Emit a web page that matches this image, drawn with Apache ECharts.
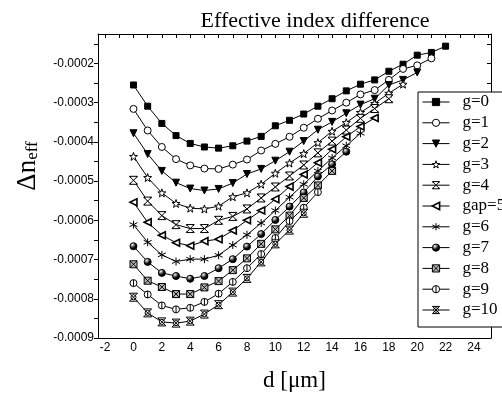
<!DOCTYPE html>
<html>
<head>
<meta charset="utf-8">
<script src="https://cdn.jsdelivr.net/npm/echarts@6/dist/echarts.min.js"></script>
<style>html,body{margin:0;padding:0;background:#fff;}#c{width:502px;height:400px;}</style>
</head>
<body>
<div id="c"></div>
<script>
var seriesNames = ['g=0','g=1','g=2','g=3','g=4','gap=5','g=6','g=7','g=8','g=9','g=10'];
var dValues = [0,1,2,3,4,5,6,7,8,9,10,11,12,13,14,15,16,17,18,19,20,21,22];
var xTickLabels = [-2,0,2,4,6,8,10,12,14,16,18,20,22,24];
var yTickLabels = [-0.0009,-0.0008,-0.0007,-0.0006,-0.0005,-0.0004,-0.0003,-0.0002];

var g0 = [-0.000255,-0.000309,-0.000353,-0.000384,-0.000404,-0.000413,-0.000416,-0.00041,-0.000398,-0.000386,-0.000359,-0.000345,-0.000329,-0.000309,-0.00029,-0.00027,-0.000253,-0.000242,-0.00022,-0.000202,-0.000179,-0.000172,-0.000156];
var g1 = [-0.000316,-0.000371,-0.000413,-0.000444,-0.00046,-0.000468,-0.000469,-0.000458,-0.000445,-0.000422,-0.000405,-0.000387,-0.000364,-0.000341,-0.00032,-0.0003,-0.000279,-0.000268,-0.000242,-0.000214,-0.000205,-0.000187];
var g2 = [-0.000378,-0.000431,-0.000474,-0.000504,-0.000519,-0.000524,-0.00052,-0.000505,-0.000482,-0.000469,-0.000448,-0.000425,-0.000398,-0.000369,-0.000349,-0.000327,-0.000305,-0.00029,-0.000255,-0.000242,-0.000223];
var g3 = [-0.000437,-0.000491,-0.00053,-0.000557,-0.000569,-0.000571,-0.000564,-0.00054,-0.00053,-0.000508,-0.00048,-0.000454,-0.00043,-0.000402,-0.000373,-0.000351,-0.000325,-0.000302,-0.000276,-0.000253];
var g4 = [-0.000498,-0.000551,-0.000588,-0.000611,-0.000621,-0.000621,-0.0006,-0.00059,-0.000571,-0.000543,-0.000515,-0.000487,-0.000459,-0.000428,-0.000398,-0.00037,-0.00034,-0.000315,-0.00029];
var g5 = [-0.000554,-0.000605,-0.000638,-0.000657,-0.000665,-0.000653,-0.000648,-0.000626,-0.0006,-0.000575,-0.000546,-0.000514,-0.000483,-0.000453,-0.000419,-0.000387,-0.000361,-0.000339];
var g6 = [-0.000611,-0.000656,-0.000688,-0.000705,-0.000699,-0.000699,-0.000689,-0.000663,-0.000637,-0.000607,-0.000575,-0.000541,-0.000508,-0.000474,-0.000441,-0.00041,-0.000378];
var g7 = [-0.000666,-0.000706,-0.000734,-0.000742,-0.000749,-0.000742,-0.000722,-0.000699,-0.000667,-0.000635,-0.000599,-0.000565,-0.000529,-0.000488,-0.000457,-0.000425];
var g8 = [-0.000712,-0.000754,-0.00077,-0.000788,-0.000788,-0.000771,-0.000755,-0.000727,-0.000697,-0.00066,-0.000623,-0.000588,-0.000543,-0.000511,-0.000474];
var g9 = [-0.00076,-0.000789,-0.000817,-0.000827,-0.000823,-0.000808,-0.000787,-0.000757,-0.000722,-0.000686,-0.000645,-0.000602,-0.000568,-0.000528];
var g10 = [-0.000796,-0.000836,-0.000859,-0.000862,-0.000857,-0.000839,-0.000815,-0.000783,-0.000748,-0.000706,-0.00066,-0.000625,-0.000582];
var allValues = [g0,g1,g2,g3,g4,g5,g6,g7,g8,g9,g10];

var STAR = 'path://M50 0 L61.76 33.82 L97.55 34.55 L69.02 56.18 L79.39 90.45 L50 70 L20.61 90.45 L30.98 56.18 L2.45 34.55 L38.24 33.82 Z';
var HOUR = 'path://M0 0 L100 0 L0 100 L100 100 Z M10 0 L10 18 M90 0 L90 18 M10 100 L10 82 M90 100 L90 82';
var AST = 'path://M50 0 L50 100 M7 25 L93 75 M93 25 L7 75';
var BOXX = 'path://M0 0 L100 0 L100 100 L0 100 Z M0 0 L100 100 M100 0 L0 100';
var CIRCBAR = 'path://M50 0 A50 50 0 1 1 50 100 A50 50 0 1 1 50 0 Z M50 0 L50 100';
var CIRCX = 'path://M0 0 L100 0 L0 100 L100 100 Z M50 18 A32 32 0 1 1 50 82 A32 32 0 1 1 50 18 Z';

var sphere = {type:'radial',x:0.35,y:0.3,r:0.75,colorStops:[{offset:0,color:'#fff'},{offset:0.35,color:'#666'},{offset:0.6,color:'#000'},{offset:1,color:'#000'}]};
var styles = [
  {symbol:'rect', rotate:0, fill:'#000', size:6},
  {symbol:'circle', rotate:0, fill:'#fff', size:7},
  {symbol:'triangle', rotate:180, fill:'#000', size:7},
  {symbol:STAR, rotate:0, fill:'#fff', size:8},
  {symbol:HOUR, rotate:0, fill:'#fff', size:8},
  {symbol:'triangle', rotate:90, fill:'#fff', size:7, bw:1.6},
  {symbol:AST, rotate:0, fill:'rgba(0,0,0,0)', size:8},
  {symbol:'circle', rotate:0, fill:sphere, size:7},
  {symbol:BOXX, rotate:0, fill:'#bbb', size:7},
  {symbol:CIRCBAR, rotate:0, fill:'#fff', size:7},
  {symbol:CIRCX, rotate:0, fill:'#fff', size:8}
];

var series = seriesNames.map(function(name, i){
  var vals = allValues[i];
  var st = styles[i];
  return {
    name: name,
    type: 'line',
    xAxisIndex: 0, yAxisIndex: 0,
    data: vals.map(function(v, k){ return [dValues[k], v]; }),
    symbol: st.symbol,
    symbolRotate: st.rotate,
    symbolSize: st.size,
    showAllSymbol: true,
    lineStyle: {color:'#000', width:1},
    itemStyle: {color: st.fill, borderColor:'#000', borderWidth: st.bw || 1},
    emphasis: {disabled:true},
    z: 2
  };
});

var legendData = seriesNames.map(function(name, i){
  var st = styles[i];
  return {name: name,
    itemStyle: {color: st.fill, borderColor:'#000', borderWidth: st.bw || 1},
    lineStyle: {color:'#000', width:1}};
});

function range(a, b, s){ var r=[]; for (var v=a; v<=b+1e-12; v+=s) r.push(Math.round(v*1e6)/1e6); return r; }
var yMinor = range(-0.0009, -0.00015, 0.00005);
var xTopTicks = range(-2, 25, 1);

var chart = echarts.init(document.getElementById('c'), null, {renderer:'canvas'});
chart.setOption({
  animation: false,
  backgroundColor: '#fff',
  title: {
    text: 'Effective index difference',
    left: 310, top: 5, textAlign: 'center',
    textStyle: {fontFamily:'Liberation Serif', fontSize:22, fontWeight:'normal', color:'#000'}
  },
  grid: {left: 98, right: 11, top: 34, bottom: 62},
  legend: {
    orient: 'vertical',
    left: 418, top: 92,
    data: legendData,
    itemWidth: 27, itemHeight: 9, itemGap: 0.8,
    padding: [0, 40, 7, 4],
    backgroundColor: '#fff',
    borderColor: '#000', borderWidth: 1, borderRadius: 0,
    selectedMode: false,
    textStyle: {fontFamily:'Liberation Serif', fontSize:17, lineHeight:20, color:'#000', padding:[0,0,0,8]},
    z: 10
  },
  xAxis: [{
    type: 'value', min: -2.5, max: 25.2,
    position: 'bottom',
    axisLine: {show:true, onZero:false, lineStyle:{color:'#000', width:1}},
    axisTick: {show:false},
    splitLine: {show:false},
    axisLabel: {customValues: xTickLabels, margin: 4, color:'#000', fontFamily:'Liberation Sans', fontSize:12},
    name: 'd [\u03bcm]', nameLocation: 'middle', nameGap: 31,
    nameTextStyle: {fontFamily:'Liberation Serif', fontSize:23, color:'#000'}
  },{
    type: 'value', min: -2.5, max: 25.2,
    position: 'top',
    axisLine: {show:true, onZero:false, lineStyle:{color:'#000', width:1}},
    axisTick: {show:true, inside:true, length:4, customValues: xTopTicks, lineStyle:{color:'#000'}},
    axisLabel: {show:false},
    splitLine: {show:false}
  }],
  yAxis: [{
    type: 'value', min: -0.0009, max: -0.000125,
    position: 'left',
    axisLine: {show:true, onZero:false, lineStyle:{color:'#000', width:1}},
    axisTick: {show:true, inside:false, length:4, customValues: yMinor, lineStyle:{color:'#000'}},
    splitLine: {show:false},
    axisLabel: {customValues: yTickLabels, margin: 4, color:'#000', fontFamily:'Liberation Sans', fontSize:12,
      formatter: function(v){ return v.toFixed(4); }},
    name: '{a|\u0394n}{b|eff}', nameLocation: 'middle', nameGap: 57,
    nameTextStyle: {padding:[0,0,0,40], rich: {
      a: {fontFamily:'Liberation Serif', fontSize:27, color:'#000'},
      b: {fontFamily:'Liberation Serif', fontSize:17, color:'#000', padding:[10,0,0,0]}
    }}
  },{
    type: 'value', min: -0.0009, max: -0.000125,
    position: 'right',
    axisLine: {show:true, onZero:false, lineStyle:{color:'#000', width:1}},
    axisTick: {show:true, inside:true, length:4, customValues: yMinor, lineStyle:{color:'#000'}},
    axisLabel: {show:false},
    splitLine: {show:false}
  }],
  series: series
});
</script>
</body>
</html>
